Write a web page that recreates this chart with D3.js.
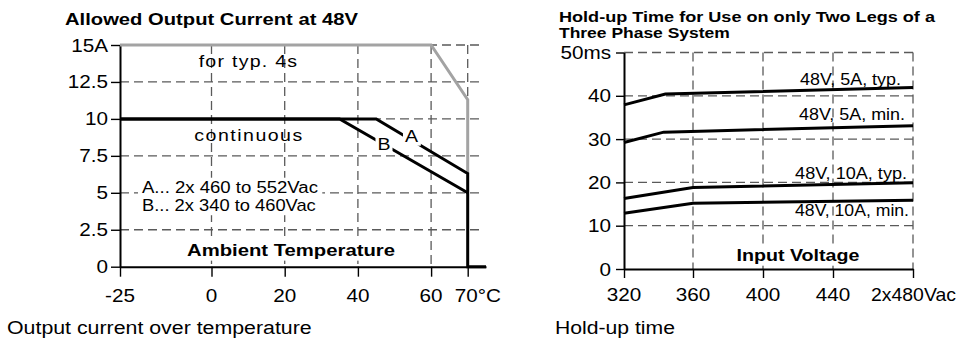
<!DOCTYPE html>
<html><head><meta charset="utf-8">
<script src="https://cdn.jsdelivr.net/npm/d3@7"></script>
<style>
body{margin:0;background:#fff;}
svg{display:block;}
text{font-family:"Liberation Sans",Arial,Helvetica,sans-serif;fill:#000;}
</style></head><body>
<svg id="c" width="960" height="340"></svg>
<script>
// ---------- Left chart data: allowed output current vs ambient temperature ----------
const tempTicks = [-25, 0, 20, 40, 60, 70];
const tempTickLabels = ["-25", "0", "20", "40", "60", "70°C"];
const currentTicks = [0, 2.5, 5, 7.5, 10, 12.5, 15];
const currentTickLabels = ["0", "2.5", "5", "7.5", "10", "12.5", "15A"];
const peakTemp = [-25, 60, 70, 70];
const peakCurrent = [15, 15, 11.3, 6.3];
const contATemp = [-25, 45, 70, 70, 75];
const contACurrent = [10, 10, 6.3, 0, 0];
const contBTemp = [-25, 35, 70];
const contBCurrent = [10, 10, 5];

// ---------- Right chart data: hold-up time vs input voltage ----------
const voltTicks = [320, 360, 400, 440, 480];
const voltTickLabels = ["320", "360", "400", "440", "2x480Vac"];
const holdTicks = [0, 10, 20, 30, 40, 50];
const holdTickLabels = ["0", "10", "20", "30", "40", "50ms"];
const holdSeriesNames = ["48V, 5A, typ.", "48V, 5A, min.", "48V, 10A, typ.", "48V, 10A, min."];
const holdVoltage = [[320, 344, 480], [320, 343, 480], [320, 360, 480], [320, 360, 480]];
const holdTime = [[37.9, 40.4, 41.9], [29.2, 31.6, 33.1], [16.3, 18.8, 19.9], [12.9, 15.2, 15.9]];

const svg = d3.select("#c");
const TICK_SX = 1.15;
const GRID = "#5a5a5a";

// text with horizontal stretch; o.w = target width in px (stretch computed from it)
function txt(g, s, x, y, o = {}) {
  const t = g.append("text")
    .attr("text-anchor", o.anchor || "start")
    .style("font-size", (o.size || 16) + "px")
    .style("font-weight", o.bold ? "bold" : "normal")
    .text(s);
  if (o.ls) t.style("letter-spacing", o.ls + "px");
  let sx = o.sx || TICK_SX;
  if (o.w) sx = o.w / t.node().getComputedTextLength();
  t.attr("transform", `translate(${x},${y}) scale(${sx},1)`);
  return t;
}
function bg(t, px = 2, py = 1) {
  const r = t.node().getBoundingClientRect();
  const p = t.node().parentNode;
  d3.select(p).insert("rect", () => t.node())
    .attr("x", r.x - px).attr("y", r.y - py)
    .attr("width", r.width + 2 * px).attr("height", r.height + 2 * py)
    .attr("fill", "#fff");
}
function styleAxis(g, w) {
  g.select(".domain").attr("stroke", "#000").attr("stroke-width", w);
  g.selectAll(".tick line").attr("stroke", "#000").attr("stroke-width", 1.4);
}

// ================= LEFT CHART =================
{
  const x = d3.scaleLinear().domain([-25, 75]).range([120, 486]);
  const y = d3.scaleLinear().domain([0, 15]).range([266.7, 45]);
  const g = svg.append("g");

  g.selectAll(".hg").data(currentTicks.filter(d => d > 0)).join("line")
    .attr("x1", x(-25)).attr("x2", x(74)).attr("y1", d => y(d)).attr("y2", d => y(d))
    .attr("stroke", GRID).attr("stroke-width", 1.3).attr("stroke-dasharray", "9,5");
  g.selectAll(".vg").data(tempTicks.filter(d => d > -25)).join("line")
    .attr("x1", d => x(d)).attr("x2", d => x(d)).attr("y1", y(15)).attr("y2", y(0))
    .attr("stroke", GRID).attr("stroke-width", 1.3).attr("stroke-dasharray", "9,5");

  const ay = g.append("g").attr("transform", `translate(${x(-25)},0)`)
    .call(d3.axisLeft(y).tickValues(currentTicks).tickSize(9).tickSizeOuter(0).tickFormat(""));
  styleAxis(ay, 2);
  const ax = g.append("g").attr("transform", `translate(0,${y(0)})`)
    .call(d3.axisBottom(x).tickValues(tempTicks).tickSize(10).tickSizeOuter(0).tickFormat(""));
  styleAxis(ax, 2);

  const line = d3.line().x(d => x(d[0])).y(d => y(d[1]));
  g.append("path").datum(d3.zip(peakTemp, peakCurrent)).attr("d", line)
    .attr("fill", "none").attr("stroke", "#a3a3a3").attr("stroke-width", 3);
  g.append("path").datum(d3.zip(contBTemp, contBCurrent)).attr("d", line)
    .attr("fill", "none").attr("stroke", "#000").attr("stroke-width", 3);
  g.append("path").datum(d3.zip(contATemp, contACurrent)).attr("d", line)
    .attr("fill", "none").attr("stroke", "#000").attr("stroke-width", 3);

  currentTicks.forEach((v, i) => txt(g, currentTickLabels[i], 108, y(v) + 6.5, { anchor: "end", size: 18 }));
  tempTicks.forEach((v, i) => {
    if (i === tempTicks.length - 1) txt(g, tempTickLabels[i], x(v) - 13, 301.5, { size: 18 });
    else txt(g, tempTickLabels[i], x(v), 301.5, { anchor: "middle", size: 18 });
  });

  txt(g, "Allowed Output Current at 48V", 65, 25, { size: 16, bold: true, w: 293 });
  txt(g, "for typ. 4s", 248.5, 67, { anchor: "middle", size: 17, sx: 1.15, ls: 1.1 });
  txt(g, "continuous", 249, 141, { anchor: "middle", size: 17, sx: 1.15, ls: 1.3 });
  const la = txt(g, "A", 411.5, 142, { anchor: "middle", size: 17 });
  bg(la, 2, 0);
  const lb = txt(g, "B", 384, 150, { anchor: "middle", size: 17 });
  bg(lb, 2, 0);
  const noteA = txt(g, "A... 2x 460 to 552Vac", 142, 192.5, { size: 16, w: 176 });
  const noteB = txt(g, "B... 2x 340 to 460Vac", 142, 210.5, { size: 16, w: 174 });
  {
    const r1 = noteA.node().getBoundingClientRect(), r2 = noteB.node().getBoundingClientRect();
    g.insert("rect", () => noteA.node())
      .attr("x", r1.x - 4).attr("y", r1.y)
      .attr("width", Math.max(r1.right, r2.right) - r1.x + 8).attr("height", r2.bottom - r1.y + 1)
      .attr("fill", "#fff");
  }
  const amb = txt(g, "Ambient Temperature", 291, 256, { anchor: "middle", size: 17, bold: true, w: 208 });
  bg(amb, 3, 1);
  txt(g, "Output current over temperature", 7, 334, { size: 19, w: 305 });
}

// ================= RIGHT CHART =================
{
  const x = d3.scaleLinear().domain(voltTicks).range([624, 693, 763, 833, 913]);
  const y = d3.scaleLinear().domain([0, 50]).range([269, 52.5]);
  const g = svg.append("g");

  g.selectAll(".hg").data(holdTicks.filter(d => d > 0)).join("line")
    .attr("x1", x(320)).attr("x2", x(480)).attr("y1", d => y(d)).attr("y2", d => y(d))
    .attr("stroke", GRID).attr("stroke-width", 1.3).attr("stroke-dasharray", "9,5");
  g.selectAll(".vg").data(voltTicks.filter(d => d > 320)).join("line")
    .attr("x1", d => x(d)).attr("x2", d => x(d)).attr("y1", y(50)).attr("y2", y(0))
    .attr("stroke", GRID).attr("stroke-width", 1.3).attr("stroke-dasharray", "9,5");

  const ay = g.append("g").attr("transform", `translate(${x(320)},0)`)
    .call(d3.axisLeft(y).tickValues(holdTicks).tickSize(8).tickSizeOuter(0).tickFormat(""));
  styleAxis(ay, 2);
  const ax = g.append("g").attr("transform", `translate(0,${y(0)})`)
    .call(d3.axisBottom(x).tickValues(voltTicks).tickSize(9).tickSizeOuter(0).tickFormat(""));
  styleAxis(ax, 2);

  const line = d3.line().x(d => x(d[0])).y(d => y(d[1]));
  holdSeriesNames.forEach((n, i) => {
    g.append("path").datum(d3.zip(holdVoltage[i], holdTime[i])).attr("d", line)
      .attr("fill", "none").attr("stroke", "#000").attr("stroke-width", 3);
  });

  holdTicks.forEach((v, i) => txt(g, holdTickLabels[i], 611, y(v) + 6.5, { anchor: "end", size: 18 }));
  voltTicks.forEach((v, i) => {
    if (i === voltTicks.length - 1) txt(g, voltTickLabels[i], x(v) - 42, 300.5, { size: 18, w: 85 });
    else txt(g, voltTickLabels[i], x(v), 300.5, { anchor: "middle", size: 18 });
  });

  const lblPos = [[901, 85], [905, 120], [907, 179], [909, 216]];
  const lblW = [101, 106, 112, 114];
  holdSeriesNames.forEach((n, i) => txt(g, n, lblPos[i][0], lblPos[i][1], { anchor: "end", size: 16, w: lblW[i] }));

  txt(g, "Hold-up Time for Use on only Two Legs of a", 559, 22, { size: 15, bold: true, w: 376 });
  txt(g, "Three Phase System", 559, 37.5, { size: 15, bold: true, w: 171 });
  const iv = txt(g, "Input Voltage", 798, 261, { anchor: "middle", size: 17, bold: true, w: 123 });
  bg(iv, 3, 1);
  txt(g, "Hold-up time", 555, 334, { size: 19, w: 120 });
}
</script>
</body></html>
